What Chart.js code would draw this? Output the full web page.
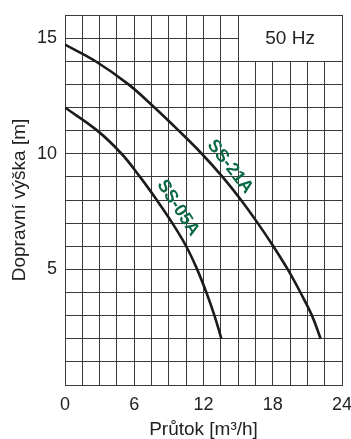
<!DOCTYPE html>
<html>
<head>
<meta charset="utf-8">
<script src="https://cdn.jsdelivr.net/npm/chart.js@4/dist/chart.umd.min.js"></script>
<style>
  html, body { margin: 0; padding: 0; background: #fff; }
  #wrap { width: 351px; height: 439px; }
</style>
</head>
<body>
<div id="wrap"><canvas id="pumpChart" width="351" height="439"></canvas></div>
<script>
// pump curves: flow [m3/h] -> head [m]
const ss21aFlow = [0, 2.65, 5.5, 7.75, 9.85, 11.85, 13.65, 15.25, 16.7, 18.05, 19.3, 20.4, 21.4, 22.15];
const ss21aHead = [14.72, 14, 13, 12, 11, 10, 9, 8, 7, 6, 5, 4, 3, 2];
const ss05aFlow = [0, 2.8, 4.9, 6.5, 7.95, 9.3, 10.5, 11.45, 12.25, 12.95, 13.55];
const ss05aHead = [12, 11, 10, 9, 8, 7, 6, 5, 4, 3, 2];

const xLabels = [0, 6, 12, 18, 24];
const yLabels = [5, 10, 15];

const fontFamily = "'Liberation Sans', Arial, sans-serif";
const gridColor = "#3a3a3a";
const curveColor = "#1b1b1b";
const labelGreen = "#0b6a45";

function toPoints(xs, ys) {
    return xs.map((x, i) => ({ x: x, y: ys[i] }));
}

// curve names and the frequency box, drawn on top of the grid
const annotations = {
    id: "annotations",
    afterDatasetsDraw(chart) {
        const ctx = chart.ctx;
        const xs = chart.scales.x;
        const ys = chart.scales.y;

        // 50 Hz box in the top right corner
        const bx1 = xs.getPixelForValue(15), bx2 = xs.getPixelForValue(24);
        const by1 = ys.getPixelForValue(16), by2 = ys.getPixelForValue(14);
        ctx.save();
        ctx.fillStyle = "#fff";
        ctx.fillRect(bx1, by1, bx2 - bx1, by2 - by1);
        ctx.strokeStyle = gridColor;
        ctx.lineWidth = 1;
        ctx.strokeRect(Math.round(bx1) + 0.5, Math.round(by1) + 0.5, Math.round(bx2 - bx1), Math.round(by2 - by1));
        ctx.fillStyle = "#222";
        ctx.font = "19px " + fontFamily;
        ctx.textAlign = "center";
        ctx.textBaseline = "middle";
        ctx.fillText("50 Hz", (bx1 + bx2) / 2, (by1 + by2) / 2 + 1);

        // model names along the curves
        const names = [
            { text: "SS-21A", x: 14.3, y: 9.44, angle: 52 },
            { text: "SS-05A", x: 9.8, y: 7.66, angle: 57 }
        ];
        ctx.fillStyle = labelGreen;
        ctx.font = "bold 18px " + fontFamily;
        names.forEach(n => {
            ctx.save();
            ctx.translate(xs.getPixelForValue(n.x), ys.getPixelForValue(n.y));
            ctx.rotate(n.angle * Math.PI / 180);
            ctx.fillText(n.text, 0, 0);
            ctx.restore();
        });
        ctx.restore();
    }
};

const lineStyle = {
    borderColor: curveColor,
    borderWidth: 2.6,
    pointRadius: 0,
    fill: false,
    tension: 0.4
};

new Chart(document.getElementById("pumpChart"), {
    type: "line",
    data: {
        datasets: [
            Object.assign({ label: "SS-21A", data: toPoints(ss21aFlow, ss21aHead) }, lineStyle),
            Object.assign({ label: "SS-05A", data: toPoints(ss05aFlow, ss05aHead) }, lineStyle)
        ]
    },
    options: {
        responsive: false,
        animation: false,
        layout: { padding: { top: 15, right: 9, left: 0, bottom: 0 } },
        plugins: {
            legend: { display: false },
            tooltip: { enabled: false }
        },
        scales: {
            x: {
                type: "linear",
                min: 0,
                max: 24,
                afterFit: scale => {
                    scale.height = 54;
                    scale.paddingLeft = 0;
                    scale.paddingRight = 0;
                },
                afterBuildTicks: scale => {
                    const t = [];
                    for (let i = 0; i <= 16; i++) t.push({ value: i * 1.5 });
                    scale.ticks = t;
                },
                grid: { color: gridColor, lineWidth: 1, drawTicks: false },
                border: { color: gridColor, width: 1 },
                ticks: {
                    autoSkip: false,
                    maxRotation: 0,
                    padding: 9,
                    color: "#222",
                    font: { family: fontFamily, size: 18 },
                    callback: v => xLabels.includes(v) ? String(v) : ""
                },
                title: {
                    display: true,
                    text: "Průtok [m³/h]",
                    color: "#222",
                    font: { family: fontFamily, size: 19, lineHeight: 1 },
                    padding: { top: 0, bottom: 0 }
                }
            },
            y: {
                type: "linear",
                min: 0,
                max: 16,
                afterFit: scale => {
                    scale.width = 65;
                    scale.paddingTop = 0;
                    scale.paddingBottom = 0;
                },
                afterBuildTicks: scale => {
                    const t = [];
                    for (let i = 0; i <= 16; i++) t.push({ value: i });
                    scale.ticks = t;
                },
                grid: { color: gridColor, lineWidth: 1, drawTicks: false },
                border: { color: gridColor, width: 1 },
                ticks: {
                    autoSkip: false,
                    padding: 8,
                    color: "#222",
                    font: { family: fontFamily, size: 18 },
                    callback: v => yLabels.includes(v) ? String(v) : ""
                },
                title: {
                    display: true,
                    text: "Dopravní výška [m]",
                    color: "#222",
                    font: { family: fontFamily, size: 19, lineHeight: 1 },
                    padding: { top: 10, bottom: 0 }
                }
            }
        }
    },
    plugins: [annotations]
});
</script>
</body>
</html>
